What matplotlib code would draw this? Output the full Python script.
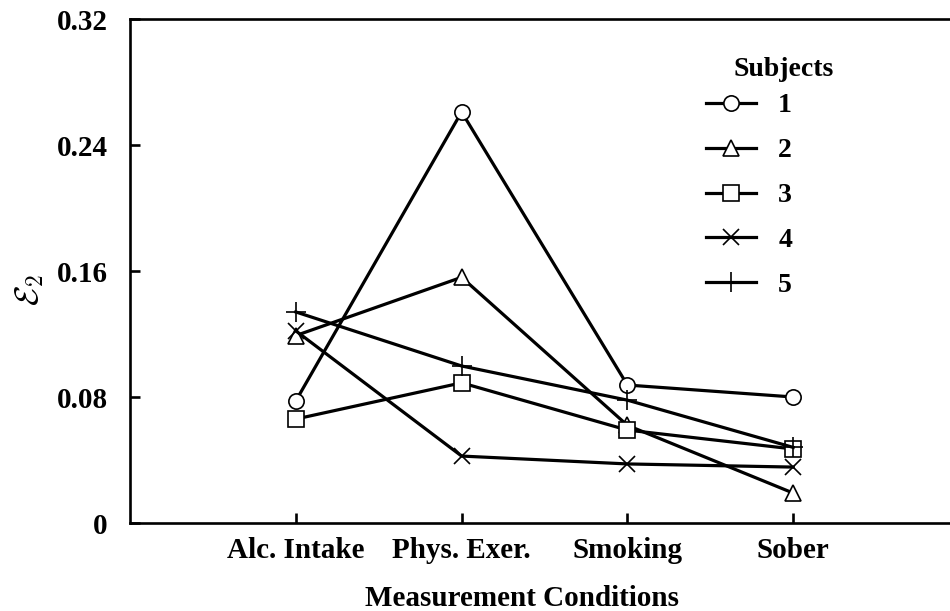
import numpy as np
import matplotlib
matplotlib.use('Agg')
import matplotlib.pyplot as plt

# data
conditions = ['Alc. Intake', 'Phys. Exer.', 'Smoking', 'Sober']
subj1 = [0.0775, 0.261, 0.0876, 0.080]
subj2 = [0.119, 0.156, 0.062, 0.019]
subj3 = [0.066, 0.089, 0.059, 0.047]
subj4 = [0.122, 0.0425, 0.0375, 0.0355]
subj5 = [0.134, 0.0997, 0.078, 0.048]
subject_labels = ['1', '2', '3', '4', '5']
y_ticks = [0, 0.08, 0.16, 0.24, 0.32]
y_tick_labels = ['0', '0.08', '0.16', '0.24', '0.32']

plt.rcParams['font.family'] = ['Liberation Serif', 'DejaVu Serif']
plt.rcParams['font.weight'] = 'bold'
plt.rcParams['mathtext.fontset'] = 'cm'

fig = plt.figure(figsize=(9.5, 6.11), dpi=100)
# right edge of the frame runs past the picture, like the original
ax = fig.add_axes([130/950, 88/611, 829/950, 504/611])

x = np.arange(len(conditions))
series = [subj1, subj2, subj3, subj4, subj5]
markers = ['o', '^', 's', 'x', '+']
sizes = [11, 11, 11, 12, 14]

handles = []
for s, m, ms, lab in zip(series, markers, sizes, subject_labels):
    h, = ax.plot(x, s, color='black', lw=2.3, marker=m, ms=ms,
                 mfc='white', mec='black', mew=1.2, label=lab)
    handles.append(h)

ax.set_xlim(-1, 4)
ax.set_ylim(0, 0.32)
ax.set_yticks(y_ticks)
ax.set_yticklabels(y_tick_labels)
ax.set_xticks(x)
ax.set_xticklabels(conditions)

for sp in ax.spines.values():
    sp.set_linewidth(1.9)
ax.tick_params(direction='in', length=7, width=1.9, labelsize=21)
ax.tick_params(axis='x', pad=10)
ax.tick_params(axis='y', pad=16)

# axis titles placed by pixel position of the original
ax.set_xlabel('Measurement Conditions', fontsize=21, fontweight='bold')
ax.xaxis.set_label_coords((522 - 130) / 829, (523 - 598) / 504)
ax.xaxis.label.set_va('center')
ax.set_ylabel(r'$\mathcal{E}_2$', fontsize=24)
ax.yaxis.set_label_coords(-100 / 829, (523 - 290) / 504)
ax.yaxis.label.set_va('center')

leg = fig.legend(handles=handles, loc='upper left', bbox_to_anchor=(706/950, 1 - 93/611),
                 frameon=False, fontsize=20, handlelength=1.8, handletextpad=0.8,
                 labelspacing=0.7, borderaxespad=0, borderpad=0)
fig.text(784/950, 1 - 70/611, 'Subjects', ha='center', va='center',
         fontsize=20, fontweight='bold')

fig.savefig('out.png', dpi=100)
